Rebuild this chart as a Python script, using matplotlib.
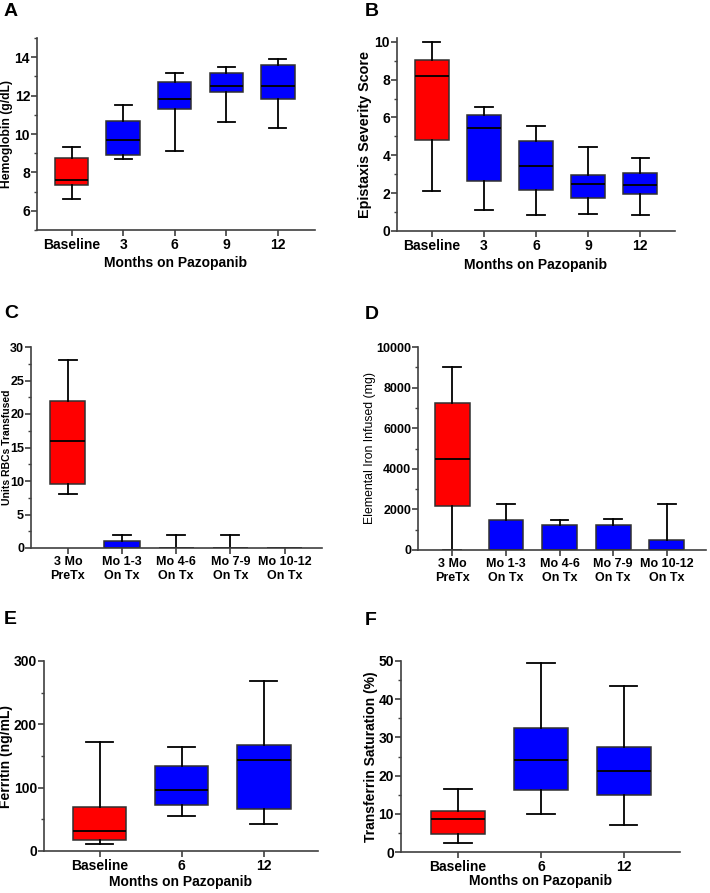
import matplotlib
matplotlib.use("Agg")
import matplotlib.pyplot as plt
from matplotlib.ticker import MultipleLocator

plt.rcParams['font.family'] = ['Liberation Sans', 'DejaVu Sans']
plt.rcParams['font.weight'] = 'bold'
plt.rcParams['axes.labelweight'] = 'bold'

RED = '#ff0000'
BLUE = '#0000ff'

# panel A - hemoglobin
months_5 = ["Baseline", "3", "6", "9", "12"]
hb_lo = [6.6, 8.7, 9.1, 10.6, 10.3]
hb_q1 = [7.35, 8.9, 11.3, 12.2, 11.8]
hb_med = [7.6, 9.7, 11.8, 12.5, 12.5]
hb_q3 = [8.75, 10.7, 12.7, 13.2, 13.6]
hb_hi = [9.3, 11.5, 13.2, 13.5, 13.9]

# panel B - epistaxis severity score
ess_lo = [2.1, 1.1, 0.86, 0.9, 0.86]
ess_q1 = [4.82, 2.65, 2.17, 1.76, 1.93]
ess_med = [8.18, 5.44, 3.45, 2.47, 2.41]
ess_q3 = [9.05, 6.12, 4.74, 2.98, 3.08]
ess_hi = [10.0, 6.55, 5.56, 4.43, 3.86]

# panel C - RBC units transfused
periods = ["3 Mo\nPreTx", "Mo 1-3\nOn Tx", "Mo 4-6\nOn Tx", "Mo 7-9\nOn Tx", "Mo 10-12\nOn Tx"]
rbc_lo = [8.0, 0, 0, 0, 0]
rbc_q1 = [9.6, 0, 0, 0, 0]
rbc_med = [16.0, 0, 0, 0, 0]
rbc_q3 = [22.0, 1.0, 0, 0, 0]
rbc_hi = [28.0, 2.0, 2.0, 2.0, 0]

# panel D - elemental iron infused
iron_lo = [0, 0, 0, 0, 0]
iron_q1 = [2170, 0, 0, 0, 0]
iron_med = [4480, 0, 0, 0, 0]
iron_q3 = [7220, 1470, 1220, 1220, 490]
iron_hi = [9000, 2250, 1480, 1520, 2250]

# panel E - ferritin
months_3 = ["Baseline", "6", "12"]
fer_lo = [11, 55, 43]
fer_q1 = [17, 72, 67]
fer_med = [32, 96, 143]
fer_q3 = [70, 134, 168]
fer_hi = [172, 164, 269]

# panel F - transferrin saturation
tsat_lo = [2.3, 10.0, 7.0]
tsat_q1 = [4.8, 16.3, 14.9]
tsat_med = [8.7, 24.2, 21.1]
tsat_q3 = [10.8, 32.4, 27.6]
tsat_hi = [16.6, 49.6, 43.4]

W, H = 710, 893
fig = plt.figure(figsize=(W / 100, H / 100), dpi=100)


def make_ax(left, top, right, bottom):
    return fig.add_axes([left / W, 1 - bottom / H, (right - left) / W, (bottom - top) / H])


def draw_boxes(ax, labels, lo, q1, med, q3, hi):
    stats = []
    for i in range(len(labels)):
        stats.append(dict(whislo=lo[i], q1=q1[i], med=med[i], q3=q3[i], whishi=hi[i]))
    pos = list(range(1, len(labels) + 1))
    bp = ax.bxp(stats, positions=pos, widths=0.65, capwidths=0.33, patch_artist=True,
                showfliers=False,
                boxprops=dict(edgecolor='#303030', linewidth=1.1),
                medianprops=dict(color='black', linewidth=1.3),
                whiskerprops=dict(color='black', linewidth=1.3),
                capprops=dict(color='black', linewidth=1.3))
    for i, b in enumerate(bp['boxes']):
        b.set_facecolor(RED if i == 0 else BLUE)
    ax.set_xticks(pos)
    ax.set_xticklabels(labels)
    for s in ['top', 'right']:
        ax.spines[s].set_visible(False)
    for s in ['left', 'bottom']:
        ax.spines[s].set_color('#404040')
        ax.spines[s].set_linewidth(1.2)
    ax.tick_params(axis='both', which='major', length=4, width=1.2, color='#404040',
                   labelsize=10)
    ax.tick_params(axis='y', pad=1)
    ax.tick_params(axis='x', pad=2)
    ax.tick_params(axis='y', which='minor', length=2.5, width=1.0, color='#404040')
    ax.tick_params(axis='x', which='minor', bottom=False)


def finish(ax, yticks, ylabel, lab_x, lab_size=10, lab_weight='bold', xlabel=True, xpad=3):
    ax.set_yticks(yticks)
    for t in ax.yaxis.get_major_ticks() + ax.xaxis.get_major_ticks():
        t.label1.set_fontweight('bold')
    ax.set_ylabel(ylabel, fontsize=lab_size, fontweight=lab_weight)
    ax.yaxis.set_label_coords(lab_x, 0.5)
    if xlabel:
        ax.set_xlabel("Months on Pazopanib", fontsize=10, fontweight='bold', labelpad=xpad)


def letter(x, y, s):
    fig.text(x / W, 1 - y / H, s, fontsize=14, fontweight='bold', va='top', ha='left')


# A
ax = make_ax(37, 38, 315, 230)
draw_boxes(ax, months_5, hb_lo, hb_q1, hb_med, hb_q3, hb_hi)
ax.set_ylim(5, 15)
ax.set_xlim(0.33, 5.72)
ax.yaxis.set_minor_locator(MultipleLocator(1))
finish(ax, [6, 8, 10, 12, 14], "Hemoglobin (g/dL)", -0.086, lab_size=8.7)
letter(4, 3, "A")

# B
ax = make_ax(397, 38, 675, 231)
draw_boxes(ax, months_5, ess_lo, ess_q1, ess_med, ess_q3, ess_hi)
ax.set_ylim(0, 10.2)
ax.set_xlim(0.33, 5.67)
ax.yaxis.set_minor_locator(MultipleLocator(1))
finish(ax, [0, 2, 4, 6, 8, 10], "Epistaxis Severity Score", -0.09, lab_size=10.4)
letter(365, 3, "B")

# C
ax = make_ax(31, 347, 322, 548)
draw_boxes(ax, periods, rbc_lo, rbc_q1, rbc_med, rbc_q3, rbc_hi)
ax.set_ylim(0, 30)
ax.set_xlim(0.32, 5.69)
ax.yaxis.set_minor_locator(MultipleLocator(2.5))
ax.tick_params(axis='x', labelsize=9)
ax.tick_params(axis='y', labelsize=9)
finish(ax, [0, 5, 10, 15, 20, 25, 30], "Units RBCs Transfused", -0.066, lab_size=7.5, xlabel=False)
letter(4, 305, "C")

# D
ax = make_ax(418, 347, 706, 550)
draw_boxes(ax, periods, iron_lo, iron_q1, iron_med, iron_q3, iron_hi)
ax.set_ylim(0, 10000)
ax.set_xlim(0.36, 5.73)
ax.yaxis.set_minor_locator(MultipleLocator(1000))
ax.tick_params(axis='x', labelsize=9)
ax.tick_params(axis='y', labelsize=9)
finish(ax, [0, 2000, 4000, 6000, 8000, 10000], "Elemental Iron Infused (mg)", -0.146,
       lab_size=8.8, lab_weight='normal', xlabel=False)
letter(365, 306, "D")

# E
ax = make_ax(44, 661, 318, 851)
draw_boxes(ax, months_3, fer_lo, fer_q1, fer_med, fer_q3, fer_hi)
ax.set_ylim(0, 300)
ax.set_xlim(0.32, 3.66)
ax.yaxis.set_minor_locator(MultipleLocator(50))
finish(ax, [0, 100, 200, 300], "Ferritin (ng/mL)", -0.113, xpad=1)
letter(4, 611, "E")

# F
ax = make_ax(401, 661, 680, 852)
draw_boxes(ax, months_3, tsat_lo, tsat_q1, tsat_med, tsat_q3, tsat_hi)
ax.set_ylim(0, 50)
ax.set_xlim(0.31, 3.68)
ax.yaxis.set_minor_locator(MultipleLocator(5))
finish(ax, [0, 10, 20, 30, 40, 50], "Transferrin Saturation (%)", -0.082, xpad=0)
letter(365, 612, "F")

fig.savefig("out.png", dpi=100)
